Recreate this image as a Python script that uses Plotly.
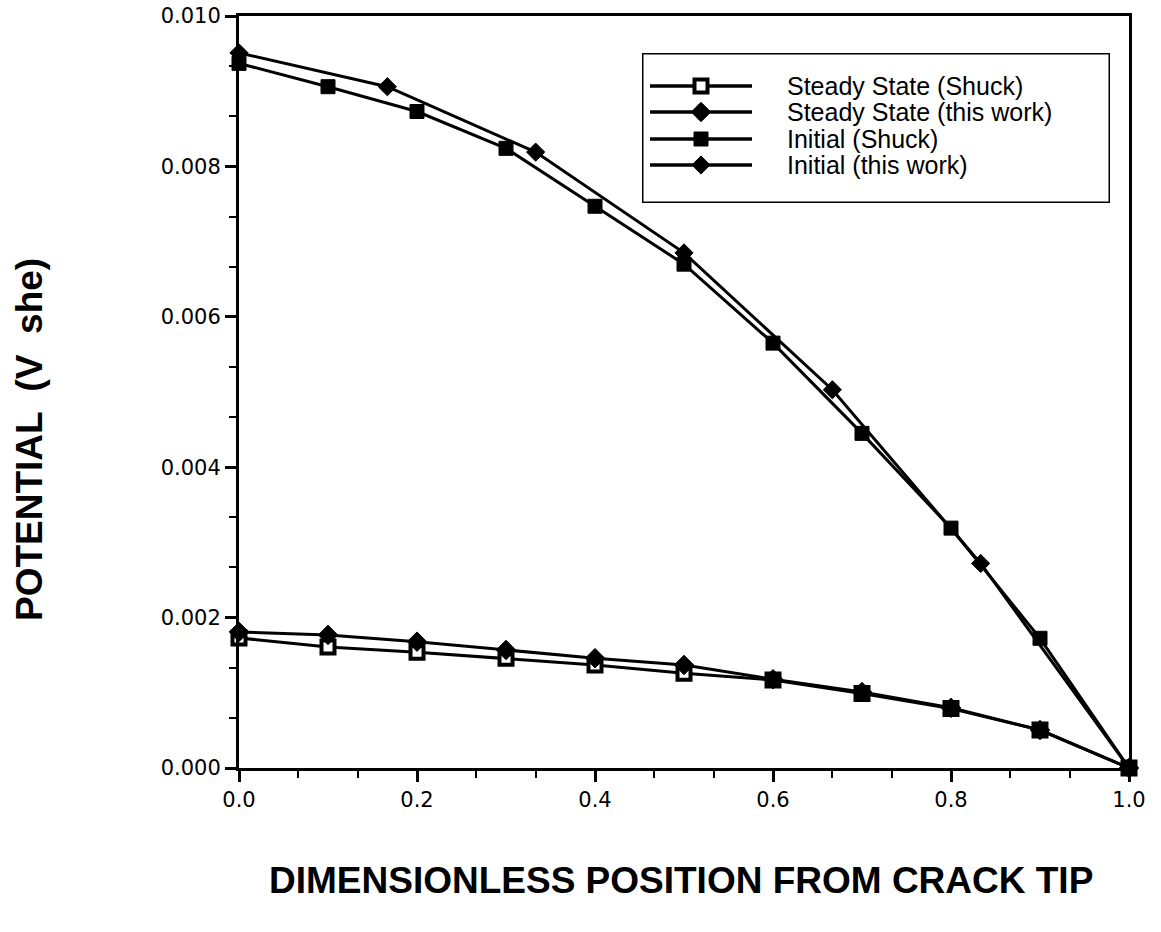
import plotly.graph_objects as go

# ---------------- data ----------------
x_shuck = [0.0, 0.1, 0.2, 0.3, 0.4, 0.5, 0.6, 0.7, 0.8, 0.9, 1.0]
init_shuck = [0.00937, 0.00906, 0.00873, 0.00824, 0.00747, 0.00670, 0.00565, 0.00445, 0.00319, 0.001725, 0.0]

x_work_init = [0.0, 1/6, 1/3, 0.5, 2/3, 5/6, 1.0]
init_work = [0.00951, 0.00906, 0.00819, 0.00685, 0.00503, 0.00272, 0.0]

steady_shuck = [0.00173, 0.00161, 0.00154, 0.00146, 0.00137, 0.00126, 0.00117, 0.00099, 0.00079, 0.000505, 0.0]
x_work_steady = [0.0, 0.1, 0.2, 0.3, 0.4, 0.5, 0.6, 0.7, 0.8, 0.9, 1.0]
steady_work = [0.00181, 0.00177, 0.00168, 0.00157, 0.00146, 0.00137, 0.00118, 0.00101, 0.00080, 0.000505, 0.0]

legend_names = ["Steady State (Shuck)", "Steady State (this work)",
                "Initial (Shuck)", "Initial (this work)"]

x_ticks = [0.0, 0.2, 0.4, 0.6, 0.8, 1.0]
x_ticklabels = ["0.0", "0.2", "0.4", "0.6", "0.8", "1.0"]
y_ticks = [0.0, 0.002, 0.004, 0.006, 0.008, 0.010]
y_ticklabels = ["0.000", "0.002", "0.004", "0.006", "0.008", "0.010"]

x_title = "DIMENSIONLESS POSITION FROM CRACK TIP"
y_title = "POTENTIAL  (V  she)"

# ---------------- styles ----------------
BLACK = "black"
styles = [
    dict(symbol="square", size=13, color="white", line=dict(color=BLACK, width=4)),
    dict(symbol="diamond", size=15, color=BLACK, line=dict(color=BLACK, width=1)),
    dict(symbol="square", size=14, color=BLACK, line=dict(color=BLACK, width=1)),
    dict(symbol="diamond", size=14, color=BLACK, line=dict(color=BLACK, width=1)),
]

fig = go.Figure()

series = [
    (x_shuck, steady_shuck, styles[0]),
    (x_work_steady, steady_work, styles[1]),
    (x_shuck, init_shuck, styles[2]),
    (x_work_init, init_work, styles[3]),
]
for xs, ys, st in series:
    fig.add_trace(go.Scatter(x=xs, y=ys, mode="lines+markers",
                             line=dict(color=BLACK, width=3),
                             marker=st, showlegend=False, cliponaxis=False))

# ---------------- hand-built legend on an overlay axis ----------------
row_y = [33, 59, 86, 112]
for i, (name, st) in enumerate(zip(legend_names, styles)):
    fig.add_trace(go.Scatter(x=[8, 110], y=[row_y[i], row_y[i]], mode="lines",
                             line=dict(color=BLACK, width=3.5),
                             xaxis="x2", yaxis="y2", showlegend=False))
    fig.add_trace(go.Scatter(x=[59], y=[row_y[i]], mode="markers", marker=st,
                             xaxis="x2", yaxis="y2", showlegend=False))
    fig.add_annotation(x=143, y=row_y[i], xref="x2", yref="y2", text=name,
                       showarrow=False, xanchor="left", yanchor="middle",
                       font=dict(family="Liberation Sans, Arial", size=25, color=BLACK))

fig.add_shape(type="rect", xref="x2", yref="y2", x0=0, x1=468, y0=0, y1=150,
              line=dict(color=BLACK, width=3), fillcolor="rgba(0,0,0,0)")

# ---------------- layout ----------------
W, H = 1161, 932
L, R, T, B = 239, 32, 16, 164
pw, ph = W - L - R, H - T - B
lx0, lx1, ly0, ly1 = 642, 1110, 53, 203

tickfont = dict(family="DejaVu Sans", size=21, color=BLACK)
titlefont = dict(family="Liberation Sans, Arial", size=37, color=BLACK)

# axis titles as annotations placed like the reference
fig.add_annotation(x=(681 - L) / pw, y=(H - B - 880) / ph, xref="paper", yref="paper",
                   text="<b>" + x_title + "</b>", showarrow=False,
                   xanchor="center", yanchor="middle", font=titlefont)
fig.add_annotation(x=(29 - L) / pw, y=(H - B - 440) / ph, xref="paper", yref="paper",
                   text="<b>" + y_title + "</b>", showarrow=False, textangle=-90,
                   xanchor="center", yanchor="middle", font=titlefont)

fig.update_layout(
    width=W, height=H,
    margin=dict(l=L, r=R, t=T, b=B, autoexpand=False),
    paper_bgcolor="white", plot_bgcolor="white",
    showlegend=False,
    xaxis=dict(
        range=[0, 1.0], tickvals=x_ticks, ticktext=x_ticklabels,
        showgrid=False, zeroline=False, automargin=False,
        showline=True, linecolor=BLACK, linewidth=3, mirror=True,
        ticks="outside", ticklen=11, tickwidth=3, tickcolor=BLACK,
        minor=dict(dtick=0.2 / 3, tick0=0, ticks="outside", ticklen=7,
                   tickwidth=2, tickcolor=BLACK),
        tickfont=tickfont,
    ),
    yaxis=dict(
        range=[0, 0.010], tickvals=y_ticks, ticktext=y_ticklabels,
        showgrid=False, zeroline=False, automargin=False,
        showline=True, linecolor=BLACK, linewidth=3, mirror=True,
        ticks="outside", ticklen=11, tickwidth=3, tickcolor=BLACK,
        minor=dict(dtick=0.002 / 3, tick0=0, ticks="outside", ticklen=7,
                   tickwidth=2, tickcolor=BLACK),
        tickfont=tickfont,
    ),
    xaxis2=dict(domain=[(lx0 - L) / pw, (lx1 - L) / pw], range=[0, 468],
                anchor="y2", visible=False, fixedrange=True),
    yaxis2=dict(domain=[(H - B - ly1) / ph, (H - B - ly0) / ph], range=[150, 0],
                anchor="x2", visible=False, fixedrange=True),
)

fig.write_html("out.html")
